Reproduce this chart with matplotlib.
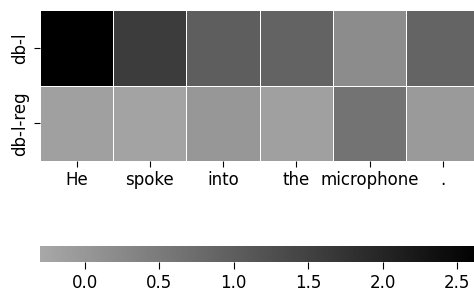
import numpy as np
import matplotlib
matplotlib.use('Agg')
import matplotlib.pyplot as plt
import seaborn as sns
from matplotlib.colors import LinearSegmentedColormap

# words along the x axis, model names on the y axis
words = ['He', 'spoke', 'into', 'the', 'microphone', '.']
models = ['db-l', 'db-l-reg']
db_l = [2.65, 1.60, 1.00, 0.91, 0.19, 0.89]
db_l_reg = [-0.16, -0.21, 0.00, -0.16, 0.63, -0.05]
cbar_ticks = [0.0, 0.5, 1.0, 1.5, 2.0, 2.5]

data = np.array([db_l, db_l_reg])

cmap = LinearSegmentedColormap.from_list('greys', ['#a8a8a8', '#000000'])

fig = plt.figure(figsize=(4.74, 2.91), dpi=100)
ax = fig.add_axes([40 / 474, 1 - 161 / 291, 439.5 / 474, 151 / 291])
cax = fig.add_axes([40 / 474, 1 - 262 / 291, 439.5 / 474, 16 / 291])

sns.heatmap(data, ax=ax, cbar_ax=cax, cmap=cmap, vmin=-0.3, vmax=2.65,
            linewidths=0.6, linecolor='white',
            xticklabels=words, yticklabels=models,
            cbar_kws={'orientation': 'horizontal', 'ticks': cbar_ticks})

ax.tick_params(axis='x', labelsize=12, rotation=0, length=4)
ax.tick_params(axis='y', labelsize=12, length=4)
plt.setp(ax.get_yticklabels(), rotation=90, va='center')
cax.tick_params(labelsize=12, length=5)
cax.xaxis.set_major_formatter(matplotlib.ticker.FormatStrFormatter('%.1f'))

fig.savefig('out.png', dpi=100)
